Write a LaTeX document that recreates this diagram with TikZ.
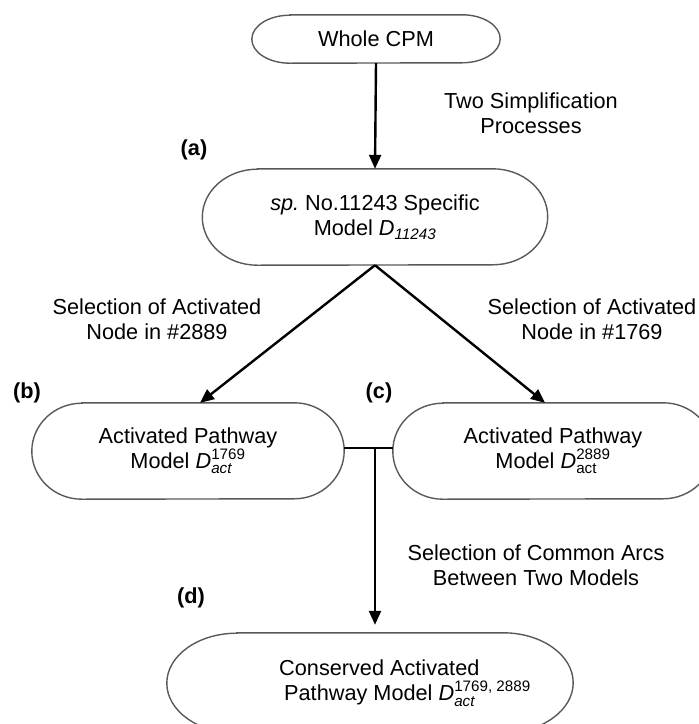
\documentclass[tikz,border=0pt]{standalone}
\usepackage{amsmath}
\usepackage{fontspec}
\setmainfont{Liberation Sans}
\usetikzlibrary{arrows.meta,calc}
\frenchspacing
\tikzset{
  box/.style={draw=none, rectangle, inner sep=0pt, align=center, font=\fontsize{21.7}{25}\selectfont},
  lbl/.style={align=center, inner sep=0pt, font=\fontsize{21.7}{25}\selectfont},
  tag/.style={inner sep=0pt, font=\fontsize{21.7}{25}\selectfont\bfseries},
  conn/.style={line width=2.4pt, black},
  arr/.style={conn, -{Triangle[length=14pt,width=12pt]}},
  outline/.style={draw=black!65, line width=1.4pt}
}
% #1 node, #2 x radius, #3 y radius, #4 horizontal offset
\newcommand\stadiumline[4]{\draw[outline]
  ([xshift=#4+#2]#1.north west) -- ([xshift=#4-#2]#1.north east)
  arc[start angle=90,end angle=-90,x radius=#2,y radius=#3]
  -- ([xshift=#4+#2]#1.south west)
  arc[start angle=270,end angle=90,x radius=#2,y radius=#3] -- cycle;}
\begin{document}
\begin{tikzpicture}[x=1pt,y=-1pt]
\useasboundingbox (0,0) rectangle (699,724);
\clip (0,0) rectangle (699,724);
% nodes
\node[box, minimum width=248pt, minimum height=48pt] (whole) at (376,39) {Whole CPM};
\node[box, minimum width=345pt, minimum height=96pt] (a) at (375,217)
  {\textit{sp.}\ No.11243 Specific\\Model $\textit{D}_{\textit{11243}}$};
\node[box, minimum width=312pt, minimum height=96pt] (b) at (188,451)
  {Activated Pathway\\Model $\textit{D}^{\text{1769}}_{\textit{act}}$};
\node[box, minimum width=320pt, minimum height=96pt] (c) at (553,451)
  {Activated Pathway\\Model $\textit{D}^{\text{2889}}_{\text{act}}$};
\node[box, align=left, minimum width=406pt, minimum height=100pt] (d) at (405,683)
  {Conserved Activated\\\hspace*{5pt}Pathway Model $\textit{D}^{\text{1769, 2889}}_{\textit{act}}$};
% outlines
\stadiumline{whole}{38pt}{24pt}{0pt}
\stadiumline{a}{55pt}{48pt}{0pt}
\stadiumline{b}{50pt}{48pt}{0pt}
\stadiumline{c}{50pt}{48pt}{0pt}
\stadiumline{d}{70pt}{50pt}{-35pt}
% text labels
\node[lbl] (t1) at (531,113) {Two Simplification\\Processes};
\node[lbl] (t2) at (157,319) {Selection of Activated\\Node in \#2889};
\node[lbl] (t3) at (592,319) {Selection of Activated\\Node in \#1769};
\node[lbl] (t4) at (536,565) {Selection of Common Arcs\\Between Two Models};
\node[tag] (la) at (194,150) {(a)};
\node[tag] (lb) at (27,393) {(b)};
\node[tag] (lc) at (379,393) {(c)};
\node[tag] (ld) at (191,598) {(d)};
% connectors
\draw[arr] (whole.south) -- (a.north);
\draw[arr] (a.south) -- ([xshift=12pt]b.north);
\draw[arr] (a.south) -- ([xshift=-8pt]c.north);
\coordinate (j) at (375,448);
\draw[conn] (b.east |- j) -- (c.west |- j);
\draw[arr, shorten >=8pt] (j) -- (j |- d.north);
\end{tikzpicture}
\end{document}
